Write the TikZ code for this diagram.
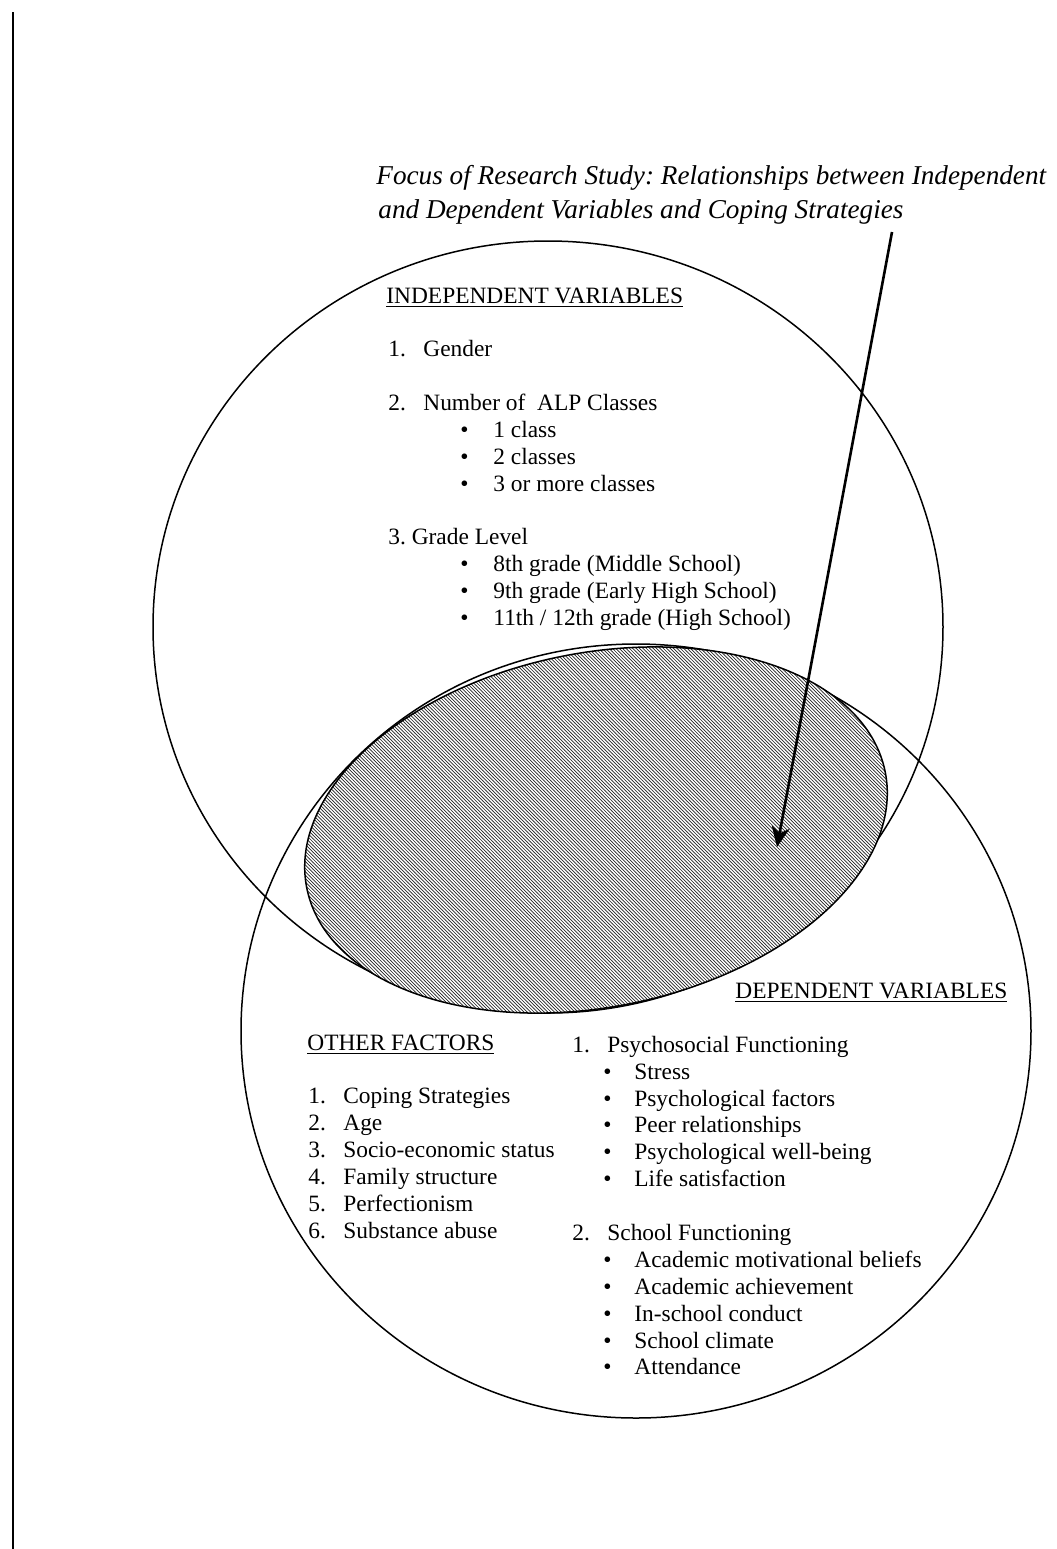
\documentclass[tikz,border=0pt]{standalone}
\usepackage{fontspec}
\setmainfont{Liberation Serif}
\usetikzlibrary{patterns,arrows.meta}
\frenchspacing

% fine hatching for the overlap
\pgfdeclarepatternformonly{fine hatch}{\pgfqpoint{-1pt}{-1pt}}{\pgfqpoint{3pt}{3pt}}{\pgfqpoint{1.7pt}{1.7pt}}{
  \pgfsetlinewidth{0.35pt}
  \pgfpathmoveto{\pgfqpoint{0pt}{1.7pt}}
  \pgfpathlineto{\pgfqpoint{1.8pt}{-0.1pt}}
  \pgfusepath{stroke}
}

\newcommand{\vennvar}{
\def\rx{395}    % radii of the two circles
\def\ry{387}
\def\xa{388}    % first column, independent variables
\def\xb{460}
\def\xc{308}    % other factors
\def\xd{572}    % dependent variables
\def\xe{603}
}
\newcommand{\numitem}[2]{\makebox[17.5pt][l]{#1}#2}
\newcommand{\bulitem}[2][16.5pt]{\makebox[#1][l]{\textbullet}#2}

\tikzset{
  txt/.style={anchor=base west, inner sep=0pt, font=\fontsize{11.7}{13.5}\selectfont},
  focustxt/.style={anchor=base west, inner sep=0pt, font=\fontsize{13.6}{17}\selectfont\itshape},
  venn/.style={line width=0.75pt},
}

\begin{document}
\begin{tikzpicture}[x=0.5pt,y=0.5pt]
      \vennvar
      \useasboundingbox (0,0) rectangle (1056,-1549);
%
      \draw[line width=1pt] (12.5,-12) -- (12.5,-1549);
%
      \draw[venn] (548,-627) ellipse [x radius=\rx, y radius=386];
      \draw[venn] (636,-1031) ellipse [x radius=\rx, y radius=\ry];
      \fill[white] (596,-830) ellipse [x radius=295, y radius=177, rotate=11.4];
      \draw[venn, pattern=fine hatch, pattern color=black!85] (596,-830) ellipse [x radius=295, y radius=177, rotate=11.4];
%
      \node[focustxt] (focus1) at (376,-184) {Focus of Research Study: Relationships between Independent};
      \node[focustxt] (focus2) at (378,-218) {and Dependent Variables and Coping Strategies};
      \coordinate (focustail) at (892,-232);
      \coordinate (focustip) at (777,-847);
      \draw[line width=1.3pt, -{Stealth[length=10pt, width=9pt, inset=3pt]}] (focustail) -- (focustip);
%
      \node[txt] (ivhead) at (386,-303) {\underline{INDEPENDENT VARIABLES}};
      \node[txt] (gender) at (\xa,-356) {\numitem{1.}{Gender}};
      \node[txt] (alp) at (\xa,-410) {\numitem{2.}{Number of~ ALP Classes}};
      \node[txt] (alpa) at (\xb,-437) {\bulitem{1 class}};
      \node[txt] (alpb) at (\xb,-464) {\bulitem{2 classes}};
      \node[txt] (alpc) at (\xb,-491) {\bulitem{3 or more classes}};
      \node[txt] (grade) at (\xa,-544) {3. Grade Level};
      \node[txt] (gradea) at (\xb,-571) {\bulitem{8th grade (Middle School)}};
      \node[txt] (gradeb) at (\xb,-598) {\bulitem{9th grade (Early High School)}};
      \node[txt] (gradec) at (\xb,-625) {\bulitem{11th / 12th grade (High School)}};
%
      \node[txt] (dvhead) at (735,-998) {\underline{DEPENDENT VARIABLES}};
      \node[txt] (ofhead) at (307,-1050) {\underline{OTHER FACTORS}};
      \node[txt] (ofa) at (\xc,-1103) {\numitem{1.}{Coping Strategies}};
      \node[txt] (ofb) at (\xc,-1130) {\numitem{2.}{Age}};
      \node[txt] (ofc) at (\xc,-1157) {\numitem{3.}{Socio-economic status}};
      \node[txt] (ofd) at (\xc,-1184) {\numitem{4.}{Family structure}};
      \node[txt] (ofe) at (\xc,-1211) {\numitem{5.}{Perfectionism}};
      \node[txt] (off) at (\xc,-1238) {\numitem{6.}{Substance abuse}};
%
      \node[txt] (psy) at (\xd,-1052) {\numitem{1.}{Psychosocial Functioning}};
      \node[txt] (psya) at (\xe,-1079) {\bulitem[15.5pt]{Stress}};
      \node[txt] (psyb) at (\xe,-1106) {\bulitem[15.5pt]{Psychological factors}};
      \node[txt] (psyc) at (\xe,-1132) {\bulitem[15.5pt]{Peer relationships}};
      \node[txt] (psyd) at (\xe,-1159) {\bulitem[15.5pt]{Psychological well-being}};
      \node[txt] (psye) at (\xe,-1186) {\bulitem[15.5pt]{Life satisfaction}};
      \node[txt] (sch) at (\xd,-1240) {\numitem{2.}{School Functioning}};
      \node[txt] (scha) at (\xe,-1267) {\bulitem[15.5pt]{Academic motivational beliefs}};
      \node[txt] (schb) at (\xe,-1294) {\bulitem[15.5pt]{Academic achievement}};
      \node[txt] (schc) at (\xe,-1321) {\bulitem[15.5pt]{In-school conduct}};
      \node[txt] (schd) at (\xe,-1348) {\bulitem[15.5pt]{School climate}};
      \node[txt] (sche) at (\xe,-1374) {\bulitem[15.5pt]{Attendance}};
    \end{tikzpicture}
\end{document}
